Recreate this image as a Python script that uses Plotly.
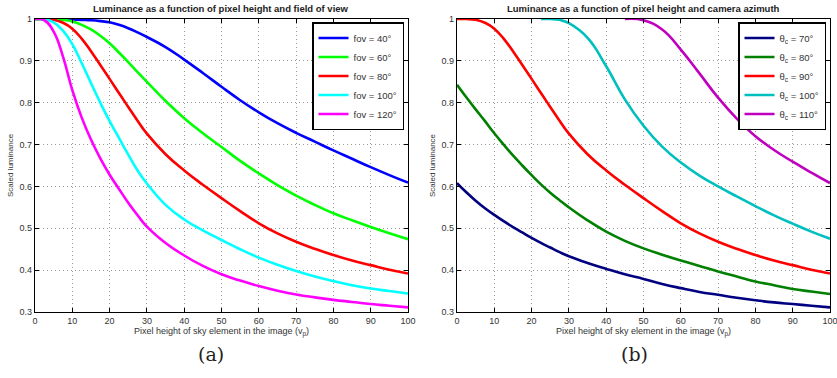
import plotly.graph_objects as go
from plotly.subplots import make_subplots

# ---------------- data ----------------
x_px = [0, 2.5, 5, 7.5, 10, 12.5, 15, 17.5, 20, 22.5, 25, 27.5, 30, 35, 40, 45,
        50, 55, 60, 65, 70, 75, 80, 85, 90, 95, 100]

# Panel (a): field of view
fov_labels = ["fov = 40°", "fov = 60°", "fov = 80°", "fov = 100°", "fov = 120°"]
fov40 = [1, 1, 1, 1, 0.999, 0.998, 0.997, 0.995, 0.992, 0.986, 0.978, 0.968, 0.957,
         0.933, 0.903, 0.871, 0.838, 0.806, 0.777, 0.751, 0.728, 0.707, 0.686, 0.666,
         0.646, 0.627, 0.609]
fov60 = [1, 1, 1, 0.998, 0.994, 0.986, 0.975, 0.96, 0.942, 0.92, 0.897, 0.873, 0.85,
         0.804, 0.763, 0.727, 0.694, 0.661, 0.631, 0.603, 0.578, 0.556, 0.536, 0.519,
         0.503, 0.488, 0.474]
fov80 = [1, 1, 0.998, 0.991, 0.977, 0.953, 0.923, 0.89, 0.857, 0.823, 0.79, 0.757,
         0.726, 0.677, 0.638, 0.604, 0.572, 0.541, 0.512, 0.488, 0.468, 0.451, 0.436,
         0.423, 0.412, 0.401, 0.392]
fov100 = [1, 0.999, 0.992, 0.972, 0.94, 0.895, 0.847, 0.8, 0.756, 0.716, 0.676, 0.638,
          0.607, 0.556, 0.521, 0.495, 0.472, 0.45, 0.43, 0.413, 0.398, 0.385, 0.374,
          0.364, 0.356, 0.35, 0.344]
fov120 = [1, 0.997, 0.97, 0.91, 0.83, 0.765, 0.712, 0.667, 0.628, 0.594, 0.561,
          0.531, 0.504, 0.465, 0.435, 0.41, 0.39, 0.375, 0.362, 0.351, 0.342, 0.335,
          0.329, 0.324, 0.319, 0.315, 0.311]

# Panel (b): camera azimuth
az_labels = ["θ<sub>c</sub> = 70°", "θ<sub>c</sub> = 80°", "θ<sub>c</sub> = 90°",
             "θ<sub>c</sub> = 100°", "θ<sub>c</sub> = 110°"]
az70 = [0.608, 0.586, 0.566, 0.548, 0.532, 0.517, 0.503, 0.49, 0.477, 0.465, 0.454,
        0.443, 0.433, 0.417, 0.403, 0.39, 0.379, 0.367, 0.357, 0.348, 0.341, 0.334,
        0.328, 0.323, 0.319, 0.315, 0.311]
az80 = [0.843, 0.813, 0.784, 0.756, 0.727, 0.7, 0.674, 0.65, 0.627, 0.605, 0.585,
        0.567, 0.55, 0.519, 0.492, 0.47, 0.452, 0.437, 0.423, 0.41, 0.397, 0.385,
        0.373, 0.364, 0.355, 0.349, 0.343]
az90 = [1, 1, 0.998, 0.991, 0.977, 0.953, 0.923, 0.89, 0.857, 0.823, 0.79, 0.757,
        0.726, 0.677, 0.638, 0.604, 0.572, 0.541, 0.512, 0.488, 0.468, 0.451, 0.436,
        0.423, 0.412, 0.401, 0.392]
az100 = [None, None, None, None, None, None, None, None, None, 1, 1, 0.998, 0.99,
         0.955, 0.887, 0.808, 0.745, 0.695, 0.657, 0.626, 0.6, 0.576, 0.553, 0.531,
         0.511, 0.492, 0.475]
az110 = [None, None, None, None, None, None, None, None, None, None, None, None, None,
         None, None, 1, 0.997, 0.975, 0.927, 0.87, 0.812, 0.762, 0.72, 0.687, 0.659,
         0.633, 0.608]

x_ticks = [0, 10, 20, 30, 40, 50, 60, 70, 80, 90, 100]
y_ticks = [0.3, 0.4, 0.5, 0.6, 0.7, 0.8, 0.9, 1]
y_ticklabels = ["0.3", "0.4", "0.5", "0.6", "0.7", "0.8", "0.9", "1"]

titles = ["Luminance as a function of pixel height and field of view",
          "Luminance as a function of pixel height and camera azimuth"]
x_title = "Pixel height of sky element in the image (v<sub>p</sub>)"
y_title = "Scaled luminance"
captions = ["(a)", "(b)"]

colors_a = ["#0000FF", "#00FF00", "#FF0000", "#00FFFF", "#FF00FF"]
colors_b = ["#000080", "#008000", "#FF0000", "#00BFBF", "#BF00BF"]

# ---------------- figure ----------------
W, H = 837, 378
fig = make_subplots(rows=1, cols=2)

for ys, name, c in zip([fov40, fov60, fov80, fov100, fov120], fov_labels, colors_a):
    fig.add_trace(go.Scatter(x=x_px, y=ys, mode="lines", name=name,
                             line=dict(color=c, width=2.6, shape="spline", smoothing=1.3),
                             legend="legend"), row=1, col=1)
for ys, name, c in zip([az70, az80, az90, az100, az110], az_labels, colors_b):
    fig.add_trace(go.Scatter(x=x_px, y=ys, mode="lines", name=name,
                             line=dict(color=c, width=2.6, shape="spline", smoothing=1.3),
                             legend="legend2"), row=1, col=2)

font_main = "Liberation Sans, Arial, sans-serif"
ydom = [1 - 312 / H, 1 - 19 / H]
xdom1 = [35 / W, 408 / W]
xdom2 = [457 / W, 830 / W]

axis_common = dict(showline=True, linecolor="black", linewidth=1.2, mirror="ticks",
                   ticks="inside", ticklen=4, tickcolor="black", automargin=False,
                   showgrid=True, gridcolor="#9a9a9a", gridwidth=1, griddash="1px,3px",
                   zeroline=False, tickfont=dict(family=font_main, size=9, color="#333"))

for i, dom in zip([1, 2], [xdom1, xdom2]):
    sfx = "" if i == 1 else "2"
    fig.update_layout(**{
        "xaxis" + sfx: dict(axis_common, domain=dom, range=[0, 100], tickvals=x_ticks,
                            ticklabeloverflow="allow",
                            title=dict(text=x_title, standoff=0,
                                       font=dict(family=font_main, size=9, color="#333"))),
        "yaxis" + sfx: dict(axis_common, domain=ydom, range=[0.3, 1], tickvals=y_ticks,
                            ticktext=y_ticklabels,
                            title=dict(text=y_title, standoff=4,
                                       font=dict(family=font_main, size=8, color="#333"))),
    })

legend_common = dict(bgcolor="white", bordercolor="black", borderwidth=1.5,
                     font=dict(family=font_main, size=9.5, color="#333"),
                     itemwidth=30, tracegroupgap=0, xanchor="right", yanchor="top")
fig.update_layout(
    legend=dict(legend_common, x=404 / W, y=1 - 22 / H),
    legend2=dict(legend_common, x=826 / W, y=1 - 22 / H),
)

annotations = []
for t, cx in zip(titles, [(35 + 408) / 2, (457 + 830) / 2]):
    annotations.append(dict(text="<b>" + t + "</b>", x=cx / W, y=1 - 8 / H,
                            xref="paper", yref="paper", showarrow=False,
                            xanchor="center", yanchor="middle",
                            font=dict(family=font_main, size=9.5, color="#222")))
for cap, cx in zip(captions, [211, 634]):
    annotations.append(dict(text=cap, x=cx / W, y=1 - 354 / H, xref="paper", yref="paper",
                            showarrow=False, xanchor="center", yanchor="middle",
                            font=dict(family="DejaVu Serif, serif", size=19, color="#222")))

fig.update_layout(width=W, height=H, margin=dict(l=0, r=0, t=0, b=0),
                  plot_bgcolor="white", paper_bgcolor="white",
                  annotations=annotations, showlegend=True)

fig.write_html("out.html", config={"displayModeBar": False},
               post_script="document.body.style.margin='0';document.body.style.overflow='hidden';")
